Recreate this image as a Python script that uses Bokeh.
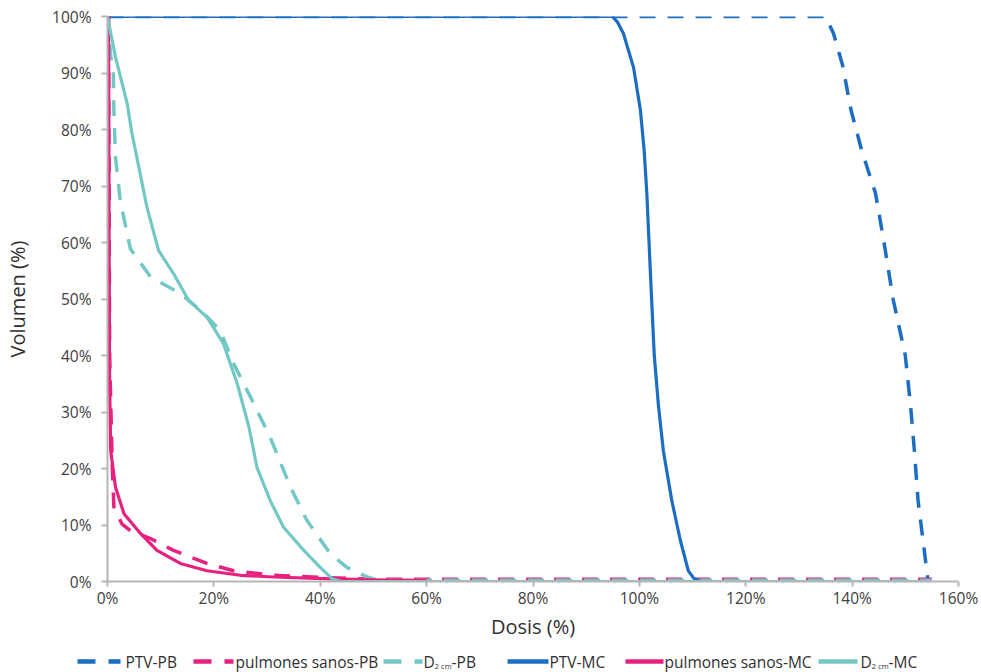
from bokeh.plotting import figure
from bokeh.models import Range1d, FixedTicker
from bokeh.layouts import column
from bokeh.core.properties import value
from bokeh.embed import file_html
from bokeh.resources import INLINE

# ---------------- data ----------------
ptv_pb_x = [0, 135, 136.5, 138.2, 139.8, 141.8, 144.4, 146, 147.7, 150, 151, 151.7, 152.4, 153.8, 154.3]
ptv_pb_y = [100, 100, 97, 91.4, 83.4, 76.3, 68.7, 60, 50, 40, 31, 23.2, 14.3, 3.7, 0]

pulm_pb_x = [0.2, 0.4, 0.9, 1.2, 2.7, 4.3, 8.1, 12.4, 18.7, 23.7, 31.2, 40.6, 50, 155]
pulm_pb_y = [100, 40, 20.2, 13.2, 10.2, 9, 7.6, 5.5, 3.2, 1.9, 1.1, 0.7, 0.4, 0.4]

d2_pb_x = [0, 0.6, 1.1, 1.2, 1.5, 2.4, 4.3, 8.1, 13.7, 17.5, 21.2, 23.7, 26.9, 30.6, 34.4, 37.5, 41.9, 45, 48.8, 51, 155]
d2_pb_y = [100, 93, 89.8, 83.4, 75.1, 67.4, 58.9, 53.9, 51, 48, 44.4, 38.6, 32.6, 25.5, 16.7, 10.8, 4.9, 2.5, 0.8, 0.2, 0.2]

ptv_mc_x = [0, 94.9, 95.9, 97, 98.9, 100.2, 100.9, 101.4, 102.3, 102.8, 103.6, 104.5, 106.1, 107.7, 109.2, 110.2, 111.5]
ptv_mc_y = [100, 100, 99, 97, 91, 83.4, 76.3, 68.7, 50, 40, 31, 23.2, 14.3, 7.3, 1.9, 0.6, 0]

pulm_mc_x = [0.2, 0.3, 0.4, 0.6, 1.5, 3.1, 6.2, 9.3, 13.7, 18.7, 25, 31.2, 40.6, 50, 60]
pulm_mc_y = [100, 60, 35, 23.2, 16.7, 12, 8.5, 5.5, 3.2, 1.9, 1.1, 0.8, 0.5, 0.3, 0.2]

d2_mc_x = [0, 1.5, 3.7, 4.6, 5.9, 7.4, 9.6, 12.4, 15.3, 18.7, 21.8, 24.4, 26.6, 28.1, 30.6, 33.1, 36.9, 40, 42.2, 44, 155]
d2_mc_y = [100, 92.8, 84.6, 79.3, 73.3, 66.3, 58.6, 54.5, 49.7, 46.8, 42.1, 35, 27.3, 20.2, 14.3, 9.6, 5.5, 2.5, 0.5, 0, 0]

x_ticks = [0, 20, 40, 60, 80, 100, 120, 140, 160]
y_ticks = [0, 10, 20, 30, 40, 50, 60, 70, 80, 90, 100]
x_title = "Dosis (%)"
y_title = "Volumen (%)"

BLUE = "#1b6ec2"
PINK = "#e8217f"
TEAL = "#72c8c5"
FONT = "Open Sans"

series = [
    ("PTV-PB", ptv_pb_x, ptv_pb_y, BLUE, True),
    ("pulmones sanos-PB", pulm_pb_x, pulm_pb_y, PINK, True),
    ("D2cm-PB", d2_pb_x, d2_pb_y, TEAL, True),
    ("PTV-MC", ptv_mc_x, ptv_mc_y, BLUE, False),
    ("pulmones sanos-MC", pulm_mc_x, pulm_mc_y, PINK, False),
    ("D2cm-MC", d2_mc_x, d2_mc_y, TEAL, False),
]

W = 978
MAIN_H = 650
p = figure(width=W, height=MAIN_H, output_backend="svg", toolbar_location=None,
           x_range=Range1d(0, 160), y_range=Range1d(0, 100),
           min_border_left=107, min_border_right=W - 958, min_border_top=16,
           min_border_bottom=MAIN_H - 581)
p.grid.visible = False
p.outline_line_color = None
p.background_fill_color = "white"

for name, xs, ys, col, dashed in series:
    p.line(xs, ys, line_color=col, line_width=3.5 if dashed else 3.2,
           line_dash="16 12" if dashed else "solid", line_join="round")

for ax, ticks in ((p.xaxis[0], x_ticks), (p.yaxis[0], y_ticks)):
    ax.ticker = FixedTicker(ticks=ticks)
    ax.major_label_overrides = {t: f"{t}%" for t in ticks}
    ax.minor_tick_line_color = None
    ax.axis_line_color = "#b5b5b5"
    ax.axis_line_width = 2
    ax.major_tick_line_color = "#b5b5b5"
    ax.major_tick_line_width = 2
    ax.major_tick_in = 0
    ax.major_label_text_font = FONT
    ax.major_label_text_font_size = "15.5px"
    ax.major_label_text_color = "#404040"
    ax.axis_label_text_font = FONT
    ax.axis_label_text_font_size = "20px"
    ax.axis_label_text_font_style = "normal"
    ax.axis_label_text_color = "#303030"

p.xaxis.axis_label = x_title
p.yaxis.axis_label = y_title
p.xaxis.major_tick_out = 5
p.yaxis.major_tick_out = 6
p.xaxis.major_label_standoff = 0
p.yaxis.major_label_standoff = 10
p.xaxis.axis_label_standoff = 1
p.yaxis.axis_label_standoff = 18

# ---------------- legend row ----------------
LH = 22
lg = figure(width=W, height=LH, output_backend="svg", toolbar_location=None,
            x_range=Range1d(0, W), y_range=Range1d(0, LH),
            min_border=0, min_border_left=0, min_border_right=0,
            min_border_top=0, min_border_bottom=0)
lg.frame_align = False
lg.axis.visible = False
lg.grid.visible = False
lg.outline_line_color = None

sample_x = [77, 193, 383, 507, 625, 818]
sample_len = [43, 40, 39, 41, 38, 39]
text_x = [125, 235, 423, 549, 664, 860]
cy = 11
fs = 15.5
for (name, xs, ys, col, dashed), sx, sl, tx in zip(series, sample_x, sample_len, text_x):
    lg.line([sx, sx + sl], [cy, cy], line_color=col, line_width=4.5,
            line_dash="18 13" if dashed else "solid")
    if name.startswith("D2cm"):
        suffix = name[4:]
        lg.text([tx], [cy], text=["D"], text_font=value(FONT), text_font_size=f"{fs}px",
                text_baseline="middle", text_align="left", text_color="#303030")
        sub_x = tx + 0.729 * fs
        lg.text([sub_x], [cy - 4], text=["2 cm"], text_font=value(FONT), text_font_size="7.5px",
                text_baseline="middle", text_align="left", text_color="#303030")
        lg.text([sub_x + 2.237 * 7.5], [cy], text=[suffix], text_font=value(FONT),
                text_font_size=f"{fs}px", text_baseline="middle", text_align="left",
                text_color="#303030")
    else:
        lg.text([tx], [cy], text=[name], text_font=value(FONT), text_font_size=f"{fs}px",
                text_baseline="middle", text_align="left", text_color="#303030")

layout = column(p, lg, spacing=0)
open("out.html", "w").write(file_html(layout, INLINE))
